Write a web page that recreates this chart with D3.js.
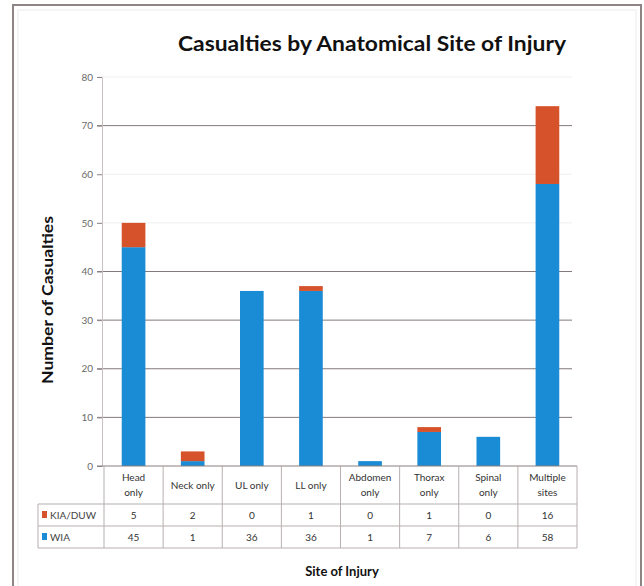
<!DOCTYPE html>
<html>
<head>
<meta charset="utf-8">
<script src="https://cdn.jsdelivr.net/npm/d3@7"></script>
<style>
  html, body { margin: 0; padding: 0; background: #fff; }
  svg { display: block; }
</style>
</head>
<body>
<svg id="chart" width="644" height="586"></svg>
<script>
const categories = ["Head only", "Neck only", "UL only", "LL only", "Abdomen only", "Thorax only", "Spinal only", "Multiple sites"];
const categoryLines = [["Head", "only"], ["Neck only"], ["UL only"], ["LL only"], ["Abdomen", "only"], ["Thorax", "only"], ["Spinal", "only"], ["Multiple", "sites"]];
const wia = [45, 1, 36, 36, 1, 7, 6, 58];
const kia = [5, 2, 0, 1, 0, 1, 0, 16];
const seriesNames = ["KIA/DUW", "WIA"];
const yTicks = [0, 10, 20, 30, 40, 50, 60, 70, 80];

const colors = { "WIA": "#1a8bd5", "KIA/DUW": "#d6522b" };
const svg = d3.select("#chart");
const font = "Lato, 'Open Sans', sans-serif";

// outer frame
svg.append("rect").attr("x", 13).attr("y", 5).attr("width", 628).attr("height", 600)
  .attr("fill", "#fff").attr("stroke", "#8e8484").attr("stroke-width", 2);
svg.append("rect").attr("x", 18).attr("y", 10).attr("width", 618).attr("height", 600)
  .attr("fill", "none").attr("stroke", "#eeeaea").attr("stroke-width", 1);

const x = d3.scaleBand().domain(categories).range([104, 577]).paddingInner(0.6).paddingOuter(0.3);
const xCol = d3.scaleBand().domain(categories).range([104, 577]);
const y = d3.scaleLinear().domain([0, 80]).range([466, 77]);

// gridlines
const faint = new Set([50, 60, 80]);
svg.append("g").selectAll("line").data(yTicks.filter(d => d > 0)).join("line")
  .attr("x1", 97).attr("x2", 572)
  .attr("y1", d => y(d)).attr("y2", d => y(d))
  .attr("stroke", d => faint.has(d) ? "#f1eeee" : "#85797a").attr("stroke-width", 1);

// y axis
const yAxis = d3.axisLeft(y).tickValues(yTicks).tickSize(5).tickPadding(4);
const gy = svg.append("g").attr("transform", "translate(102,0)").call(yAxis);
gy.select(".domain").attr("stroke", "#c9c1c1");
gy.selectAll(".tick line").attr("stroke", "#8f8485");
gy.selectAll(".tick text").attr("font-family", font).attr("font-size", 10).attr("fill", "#6a6a6a");

// stacked bars
const rows = categories.map((c, i) => ({ cat: c, "WIA": wia[i], "KIA/DUW": kia[i] }));
const stack = d3.stack().keys(["WIA", "KIA/DUW"])(rows);
svg.append("g").selectAll("g").data(stack).join("g")
  .attr("fill", d => colors[d.key])
  .selectAll("rect").data(d => d).join("rect")
  .attr("x", d => x(d.data.cat))
  .attr("width", x.bandwidth())
  .attr("y", d => y(d[1]))
  .attr("height", d => y(d[0]) - y(d[1]));

// x axis line
svg.append("line").attr("x1", 97).attr("x2", 577).attr("y1", 466).attr("y2", 466)
  .attr("stroke", "#8a7f80").attr("stroke-width", 1.2);

// data table
const tbl = svg.append("g");
const lineColor = "#b9afaf";
const rowY = [466, 504, 526, 548];
// vertical column lines
const bounds = categories.map(c => xCol(c)).concat([xCol.range()[1]]);
tbl.selectAll("line.v").data(bounds).join("line")
  .attr("x1", d => d).attr("x2", d => d).attr("y1", 466).attr("y2", 548)
  .attr("stroke", lineColor);
tbl.append("line").attr("x1", 38).attr("x2", 38).attr("y1", 504).attr("y2", 548).attr("stroke", lineColor);
tbl.selectAll("line.h").data(rowY.slice(1)).join("line")
  .attr("x1", 38).attr("x2", 577).attr("y1", d => d).attr("y2", d => d)
  .attr("stroke", lineColor);

// header labels
categories.forEach((c, i) => {
  const lines = categoryLines[i];
  const cx = xCol(c) + xCol.bandwidth() / 2;
  const t = tbl.append("text").attr("x", cx).attr("text-anchor", "middle")
    .attr("font-family", font).attr("font-size", 10).attr("fill", "#333");
  if (lines.length === 1) {
    t.append("tspan").attr("x", cx).attr("y", 489).text(lines[0]);
  } else {
    t.append("tspan").attr("x", cx).attr("y", 481).text(lines[0]);
    t.append("tspan").attr("x", cx).attr("y", 496).text(lines[1]);
  }
});

// value rows
const tableData = [kia, wia];
seriesNames.forEach((name, r) => {
  const cy = (rowY[r + 1] + rowY[r + 2]) / 2 + 4;
  tbl.append("rect").attr("x", 42).attr("y", cy - 8).attr("width", 5).attr("height", 7)
    .attr("fill", colors[name]);
  tbl.append("text").attr("x", 50).attr("y", cy).attr("font-family", font)
    .attr("font-size", 10).attr("fill", "#444").text(name);
  tbl.selectAll(null).data(tableData[r]).join("text")
    .attr("x", (d, i) => xCol(categories[i]) + xCol.bandwidth() / 2)
    .attr("y", cy).attr("text-anchor", "middle")
    .attr("font-family", font).attr("font-size", 10).attr("fill", "#333")
    .text(d => d);
});

// titles
svg.append("text").attr("x", 372).attr("y", 51).attr("text-anchor", "middle")
  .attr("font-family", font).attr("font-weight", "bold").attr("font-size", 20)
  .attr("fill", "#111").attr("textLength", 388).attr("lengthAdjust", "spacingAndGlyphs")
  .text("Casualties by Anatomical Site of Injury");

svg.append("text").attr("transform", "translate(53,300) rotate(-90)").attr("text-anchor", "middle")
  .attr("font-family", font).attr("font-weight", "bold").attr("font-size", 15)
  .attr("fill", "#111").attr("textLength", 168).attr("lengthAdjust", "spacingAndGlyphs")
  .text("Number of Casualties");

svg.append("text").attr("x", 342).attr("y", 576).attr("text-anchor", "middle")
  .attr("font-family", font).attr("font-weight", "bold").attr("font-size", 13)
  .attr("fill", "#111").text("Site of Injury");
</script>
</body>
</html>
